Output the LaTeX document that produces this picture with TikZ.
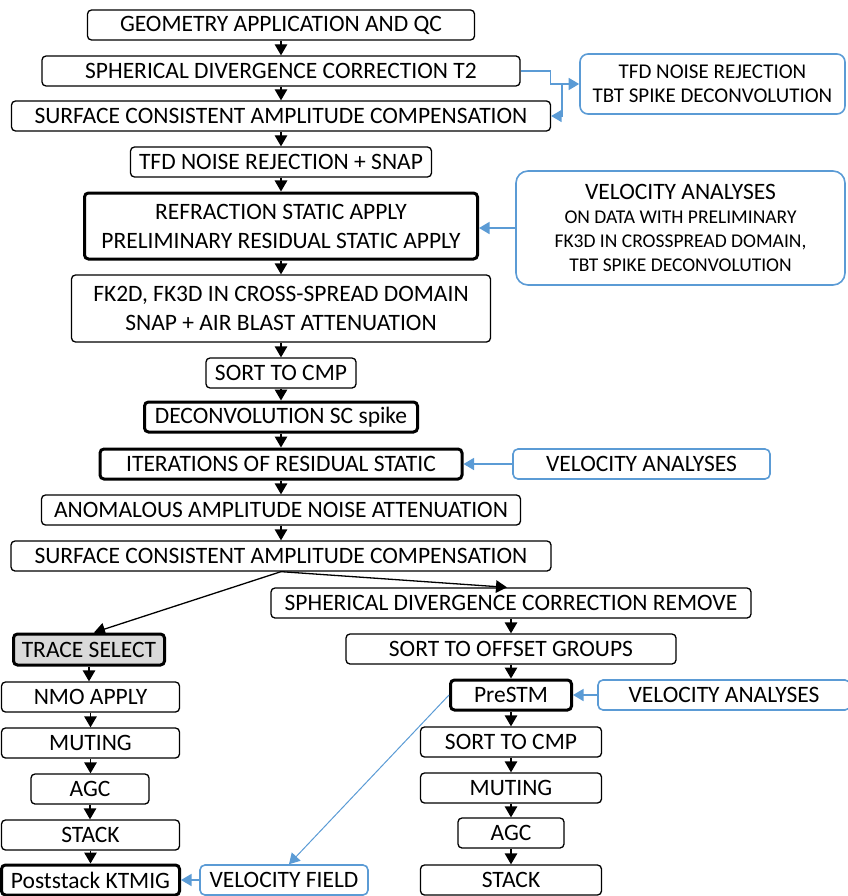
\documentclass[tikz,border=0pt]{standalone}
\usepackage{fontspec}
\setmainfont{Carlito}
\usetikzlibrary{arrows.meta,calc}
\definecolor{bl}{RGB}{91,155,213}
\definecolor{gr}{RGB}{217,217,217}
\begin{document}
\begin{tikzpicture}[x=1pt,y=-1pt,
 box/.style={draw=black, line width=1.3pt, rounded corners=4pt, inner sep=0pt, fill=white,
   font=\fontsize{23.5}{29}\selectfont, align=center},
 tbox/.style={box, line width=3pt},
 bbox/.style={draw=bl, line width=1.6pt, rounded corners=5pt, inner sep=0pt, align=center,
   font=\fontsize{23.5}{29}\selectfont},
 small/.style={font=\fontsize{21}{24}\selectfont},
 arr/.style={-{Triangle[length=11pt,width=12.5pt]}, line width=1.3pt},
 barr/.style={-{Triangle[length=10.5pt,width=12pt]}, draw=bl, line width=1.5pt},
]
\useasboundingbox (0,0) rectangle (847,896);
% main column
\node[box, minimum width=387, minimum height=30] (geo) at (281,25) {GEOMETRY APPLICATION AND QC};
\node[box, minimum width=478, minimum height=30] (sph) at (281,71) {SPHERICAL DIVERGENCE CORRECTION T2};
\node[box, minimum width=539, minimum height=30] (sca1) at (281,116) {SURFACE CONSISTENT AMPLITUDE COMPENSATION};
\node[box, minimum width=301, minimum height=30] (tfd) at (281,162) {TFD NOISE REJECTION + SNAP};
\node[tbox, minimum width=393, minimum height=66] (refr) at (281,226) {REFRACTION STATIC APPLY\\PRELIMINARY RESIDUAL STATIC APPLY};
\node[box, minimum width=419, minimum height=67] (fk) at (281,308.5) {FK2D, FK3D IN CROSS-SPREAD DOMAIN\\SNAP + AIR BLAST ATTENUATION};
\node[box, minimum width=150, minimum height=30] (sort1) at (281,373) {SORT TO CMP};
\node[tbox, minimum width=273, minimum height=30] (decon) at (281,417) {DECONVOLUTION SC spike};
\node[tbox, minimum width=362, minimum height=30] (iter) at (281,464) {ITERATIONS OF RESIDUAL STATIC};
\node[box, minimum width=479, minimum height=30] (anom) at (281,510) {ANOMALOUS AMPLITUDE NOISE ATTENUATION};
\node[box, minimum width=540, minimum height=30] (sca2) at (281,556) {SURFACE CONSISTENT AMPLITUDE COMPENSATION};
% right column
\node[box, minimum width=480, minimum height=30] (sdr) at (511,603) {SPHERICAL DIVERGENCE CORRECTION REMOVE};
\node[box, minimum width=330, minimum height=30] (sog) at (511,649) {SORT TO OFFSET GROUPS};
\node[tbox, minimum width=121, minimum height=30] (prestm) at (511,695) {PreSTM};
\node[box, minimum width=181, minimum height=30] (sort2) at (511,742) {SORT TO CMP};
\node[box, minimum width=181, minimum height=30] (mut2) at (511,788) {MUTING};
\node[box, minimum width=106, minimum height=30] (agc2) at (511,833) {AGC};
\node[box, minimum width=181, minimum height=30] (stack2) at (511,880) {STACK};
% left column
\node[tbox, fill=gr, minimum width=151, minimum height=31] (trace) at (89,649.5) {TRACE SELECT};
\node[box, minimum width=178, minimum height=30] (nmo) at (90.5,697) {NMO APPLY};
\node[box, minimum width=178, minimum height=30] (mut1) at (90.5,743) {MUTING};
\node[box, minimum width=118, minimum height=30] (agc1) at (90,789) {AGC};
\node[box, minimum width=178, minimum height=30] (stack1) at (90.5,835) {STACK};
\node[tbox, minimum width=178, minimum height=30] (post) at (90.5,880) {Poststack KTMIG};
% blue boxes
\node[bbox, small, rounded corners=8pt, minimum width=265, minimum height=60] (tfdb) at (712.5,84) {TFD NOISE REJECTION\\TBT SPIKE DECONVOLUTION};
\node[bbox, rounded corners=12pt, minimum width=329, minimum height=114] (velb) at (680.5,228)
  {VELOCITY ANALYSES\\[-5pt]{\fontsize{19.5}{24}\selectfont ON DATA WITH PRELIMINARY}\\[-5pt]
   {\fontsize{19.5}{24}\selectfont FK3D IN CROSSPREAD DOMAIN,}\\[-5pt]{\fontsize{19.5}{24}\selectfont TBT SPIKE DECONVOLUTION}};
\node[bbox, minimum width=257, minimum height=30] (vel2) at (641.5,464) {VELOCITY ANALYSES};
\node[bbox, minimum width=252, minimum height=30] (vel3) at (724,695) {VELOCITY ANALYSES};
\node[bbox, minimum width=168, minimum height=30] (vf) at (284,880) {VELOCITY FIELD};
% black arrows
\foreach \a/\b in {geo/sph, sph/sca1, sca1/tfd, tfd/refr, refr/fk, fk/sort1, sort1/decon, decon/iter, iter/anom, anom/sca2,
  sdr/sog, sog/prestm, prestm/sort2, sort2/mut2, mut2/agc2, agc2/stack2,
  trace/nmo, nmo/mut1, mut1/agc1, agc1/stack1, stack1/post}
  \draw[arr] (\a.south) -- (\a.south |- \b.north);
\draw[arr] (sca2.south) -- ($(trace.north)+(5,0)$);
\draw[arr] (sca2.south) -- ($(sdr.north)+(-4,0)$);
% blue arrows
\draw[barr] (sph.east) -- ++(30,0) |- (tfdb.west);
\coordinate (j) at ($(tfdb.west)+(-17,0)$);
\draw[barr] (j) |- (sca1.east);
\draw[barr] (velb.west) -- (velb.west -| refr.east);
\draw[barr] (vel2.west) -- (iter.east);
\draw[barr] (vel3.west) -- (prestm.east);
\draw[barr] (vf.west) -- (post.east);
\draw[barr, line width=1pt] (prestm.west) -- ($(vf.north)+(5,0)$);
\end{tikzpicture}
\end{document}
